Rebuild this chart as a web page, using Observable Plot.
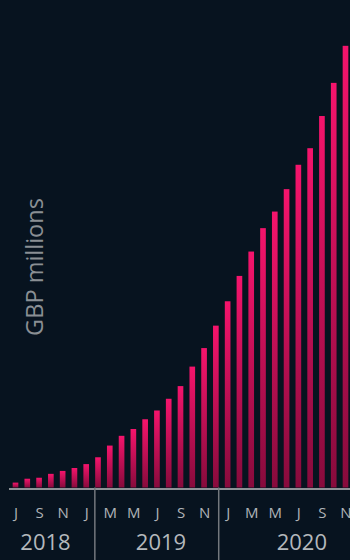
<!DOCTYPE html>
<html>
<head>
<meta charset="utf-8">
<script src="https://cdn.jsdelivr.net/npm/d3@7"></script>
<script src="https://cdn.jsdelivr.net/npm/@observablehq/plot@0.6"></script>
<style>
  html, body { margin: 0; padding: 0; background: #07131f; overflow: hidden; }
</style>
</head>
<body>
<div id="chart"></div>
<script>
// Monthly values, GBP millions
const months = [
  "2018-07", "2018-08", "2018-09", "2018-10", "2018-11", "2018-12",
  "2019-01", "2019-02", "2019-03", "2019-04", "2019-05", "2019-06",
  "2019-07", "2019-08", "2019-09", "2019-10", "2019-11", "2019-12",
  "2020-01", "2020-02", "2020-03", "2020-04", "2020-05", "2020-06",
  "2020-07", "2020-08", "2020-09", "2020-10", "2020-11"
];
const values = [
  5, 9, 10, 14, 17, 20,
  24, 31, 43, 53, 60, 70,
  79, 91, 104, 124, 143, 166,
  191, 217, 242, 266, 283, 306,
  331, 348, 381, 415, 453
];
const monthInitials = ["J", "F", "M", "A", "M", "J", "J", "A", "S", "O", "N", "D"];
const years = ["2018", "2019", "2020"];

const data = months.map((m, i) => ({i, month: m, value: values[i]}));
const tickIdx = data.filter(d => d.i % 2 === 0).map(d => d.i);
const initialOf = i => monthInitials[+months[i].slice(5) - 1];

// layout of the year band under the month letters (in month steps)
const yearLabelAt = [2.5, 12.3, 24.25];
const yearBreaks = [6.69, 17.2];

const chart = Plot.plot({
  width: 350,
  height: 560,
  marginTop: 0,
  marginRight: 0,
  marginBottom: 72.5,
  marginLeft: 9,
  style: {
    background: "#07131f",
    fontFamily: "'Open Sans', sans-serif",
    fontSize: "15px",
    color: "#aeb2b6",
    overflow: "hidden"
  },
  x: {type: "linear", domain: [0, 28], range: [15.5, 345.5]},
  y: {domain: [0, 500], axis: null},
  marks: [
    Plot.rectY(data, {
      x1: d => d.i - 0.24,
      x2: d => d.i + 0.24,
      y1: 0,
      y2: "value",
      fill: "url(#barFade)"
    }),
    Plot.ruleY([0], {stroke: "#8d9297", strokeWidth: 2, dy: 1}),
    Plot.ruleX(yearBreaks, {y1: 0, y2: -80, stroke: "#73787d", strokeWidth: 1.5}),
    Plot.axisX({
      ticks: tickIdx,
      tickFormat: initialOf,
      tickSize: 0,
      tickPadding: 19,
      label: null,
      fontSize: 15,
      fill: "#b0b4b8"
    }),
    Plot.text(years, {
      x: (d, k) => yearLabelAt[k],
      frameAnchor: "bottom",
      dy: 61.5,
      fontSize: 22,
      fill: "#b4b8bc"
    }),
    Plot.text(["GBP millions"], {
      frameAnchor: "left",
      textAnchor: "middle",
      dx: 25.7,
      dy: 22.75,
      rotate: -90,
      fontSize: 23.5,
      fill: "#8a8f94"
    })
  ]
});

// vertical fade used by every bar: bright pink at the top, deep crimson at the base
const defs = d3.select(chart).insert("defs", ":first-child");
const grad = defs.append("linearGradient")
  .attr("id", "barFade")
  .attr("x1", 0).attr("y1", 0)
  .attr("x2", 0).attr("y2", 1);
grad.append("stop").attr("offset", "0%").attr("stop-color", "#f5146c");
grad.append("stop").attr("offset", "100%").attr("stop-color", "#870b3c");

document.getElementById("chart").appendChild(chart);
</script>
</body>
</html>
